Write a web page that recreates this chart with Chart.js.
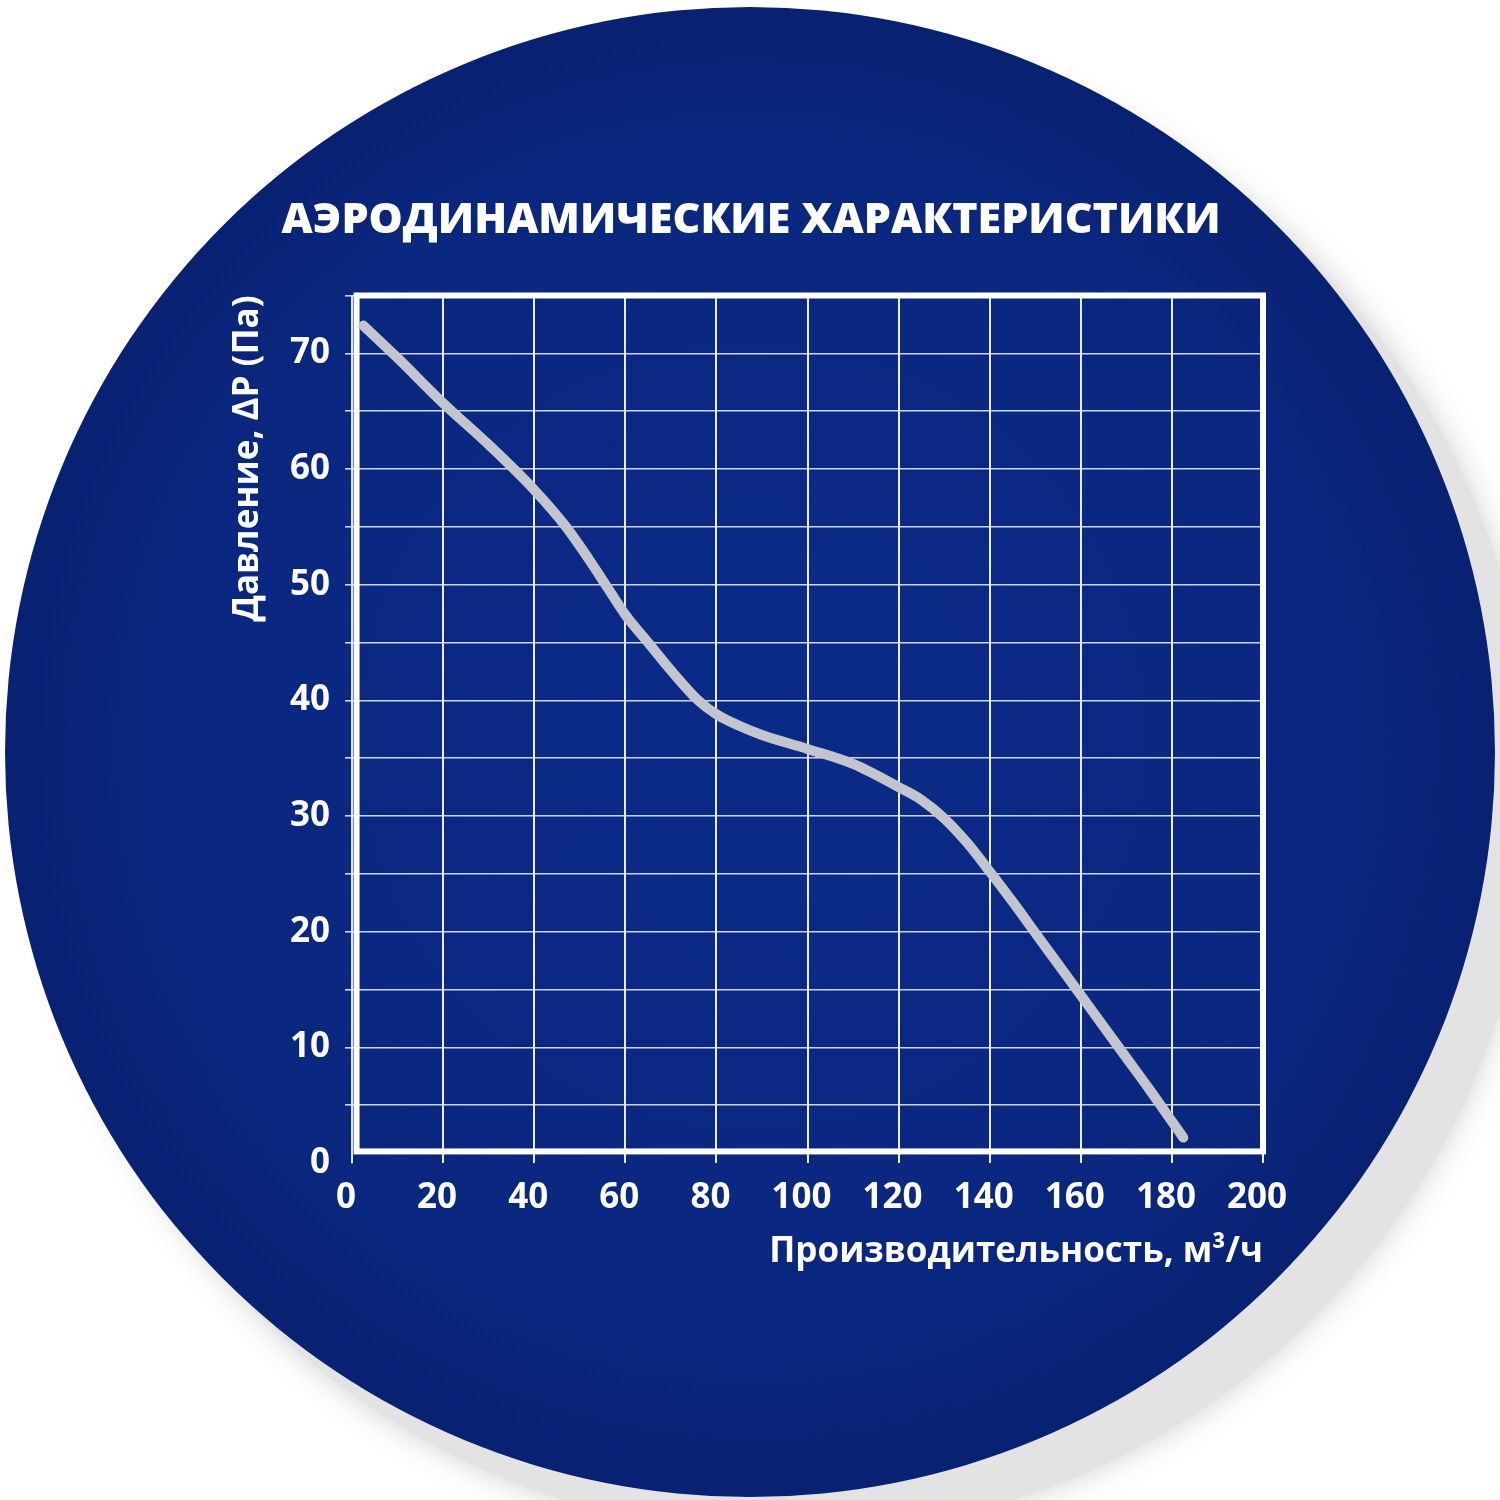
<!DOCTYPE html>
<html>
<head>
<meta charset="utf-8">
<script src="https://cdn.jsdelivr.net/npm/chart.js@4.4.1/dist/chart.umd.min.js"></script>
<style>
  html, body { margin: 0; padding: 0; background: #ffffff; }
  #chart { display: block; }
</style>
</head>
<body>
<canvas id="chart" width="1500" height="1500"></canvas>
<script>
// Flow rate (m3/h) and static pressure (Pa)
const flowRate = [2.5, 10, 20, 30, 40, 47, 52, 56, 60, 65, 70, 76, 80, 85, 90, 100, 110, 120, 125, 130, 135, 140, 145, 150, 155, 160, 165, 170, 175, 180, 182.5];
const pressure = [72.4, 69.6, 65.7, 62.1, 58.2, 55.0, 52.2, 49.8, 47.4, 45.0, 42.6, 40.0, 38.8, 37.8, 37.0, 35.8, 34.5, 32.5, 31.4, 29.8, 27.7, 25.2, 22.6, 19.9, 17.2, 14.5, 11.8, 9.1, 6.4, 3.6, 2.2];

const xTicks = [0, 20, 40, 60, 80, 100, 120, 140, 160, 180, 200];
const yTicks = [0, 10, 20, 30, 40, 50, 60, 70];

const titleText = 'АЭРОДИНАМИЧЕСКИЕ ХАРАКТЕРИСТИКИ';
const xTitle = 'Производительность, м³/ч';
const yTitle = 'Давление, ΔP (Па)';

const FONT = '"Open Sans", "DejaVu Sans", sans-serif';

// Blue disc with a soft grey shadow behind the chart
const discPlugin = {
    id: 'disc',
    beforeDraw(chart) {
        const ctx = chart.ctx;
        ctx.save();
        ctx.fillStyle = '#ffffff';
        ctx.fillRect(0, 0, chart.width, chart.height);

        ctx.shadowColor = 'rgba(205,205,205,0.9)';
        ctx.shadowBlur = 30;
        ctx.fillStyle = '#e3e3e3';
        ctx.beginPath();
        ctx.arc(788, 790, 745, 0, Math.PI * 2);
        ctx.fill();
        ctx.shadowBlur = 0;
        ctx.shadowColor = 'transparent';

        const grad = ctx.createRadialGradient(760, 720, 50, 750, 752, 745);
        grad.addColorStop(0, '#0b2a88');
        grad.addColorStop(0.8, '#0a277f');
        grad.addColorStop(1, '#082172');
        ctx.fillStyle = grad;
        ctx.beginPath();
        ctx.arc(750, 752, 745, 0, Math.PI * 2);
        ctx.fill();
        ctx.restore();
    }
};

// Thick white frame that sits just inside the axes
const framePlugin = {
    id: 'frame',
    beforeDatasetsDraw(chart) {
        const x = chart.scales.x;
        const y = chart.scales.y;
        const left = x.getPixelForValue(1);
        const right = x.getPixelForValue(200);
        const top = y.getPixelForValue(75);
        const bottom = y.getPixelForValue(1);
        const ctx = chart.ctx;
        ctx.save();
        ctx.strokeStyle = '#ffffff';
        ctx.lineWidth = 6;
        ctx.strokeRect(left, top, right - left, bottom - top);
        ctx.restore();
    }
};

const ctx = document.getElementById('chart').getContext('2d');

new Chart(ctx, {
    type: 'line',
    data: {
        datasets: [{
            data: flowRate.map((f, i) => ({ x: f, y: pressure[i] })),
            borderColor: '#c3c5cc',
            borderWidth: 10,
            borderCapStyle: 'round',
            borderJoinStyle: 'round',
            pointRadius: 0,
            cubicInterpolationMode: 'monotone',
            fill: false
        }]
    },
    options: {
        responsive: false,
        animation: false,
        devicePixelRatio: 1,
        layout: {
            padding: { left: 239, right: 237, top: 0, bottom: 200 }
        },
        plugins: {
            legend: { display: false },
            tooltip: { enabled: false },
            title: {
                display: true,
                text: titleText,
                color: '#ffffff',
                font: { family: FONT, size: 43, weight: '800', lineHeight: 1 },
                padding: { top: 199.5, bottom: 53 }
            }
        },
        scales: {
            x: {
                type: 'linear',
                min: 0,
                max: 200,
                afterBuildTicks(scale) {
                    scale.ticks = xTicks.map(v => ({ value: v }));
                },
                afterFit(scale) { scale.height = 137; },
                border: { display: false },
                grid: {
                    color: 'rgba(255,255,255,0.92)',
                    lineWidth: 2,
                    drawTicks: false
                },
                ticks: {
                    color: '#ffffff',
                    padding: 14,
                    labelOffset: -6,
                    maxRotation: 0,
                    autoSkip: false,
                    font: { family: FONT, size: 35, weight: '700', lineHeight: 1.2 }
                },
                title: {
                    display: true,
                    text: xTitle,
                    align: 'end',
                    color: '#ffffff',
                    font: { family: FONT, size: 35, weight: '700', lineHeight: 1.2 },
                    padding: { top: 0, bottom: 27 }
                }
            },
            y: {
                type: 'linear',
                min: 0,
                max: 75,
                afterBuildTicks(scale) {
                    const t = [];
                    for (let v = 0; v <= 75; v += 5) t.push({ value: v });
                    scale.ticks = t;
                },
                afterFit(scale) { scale.width = 113; },
                border: { display: true, color: 'rgba(220,228,255,0.9)', width: 2 },
                grid: {
                    color: c => c.tick && c.tick.value === 0 ? 'rgba(0,0,0,0)' : 'rgba(225,232,255,0.9)',
                    lineWidth: 1.6,
                    drawTicks: true,
                    tickLength: 7
                },
                ticks: {
                    color: '#ffffff',
                    padding: 15,
                    autoSkip: false,
                    callback: v => yTicks.includes(v) ? String(v) : '',
                    font: { family: FONT, size: 35, weight: '700', lineHeight: 1.2 }
                },
                title: {
                    display: true,
                    text: yTitle,
                    align: 'end',
                    color: '#ffffff',
                    font: { family: FONT, size: 35, weight: '700', lineHeight: 0.53 },
                    padding: { top: 0, bottom: 0 }
                }
            }
        }
    },
    plugins: [discPlugin, framePlugin]
});
</script>
</body>
</html>
